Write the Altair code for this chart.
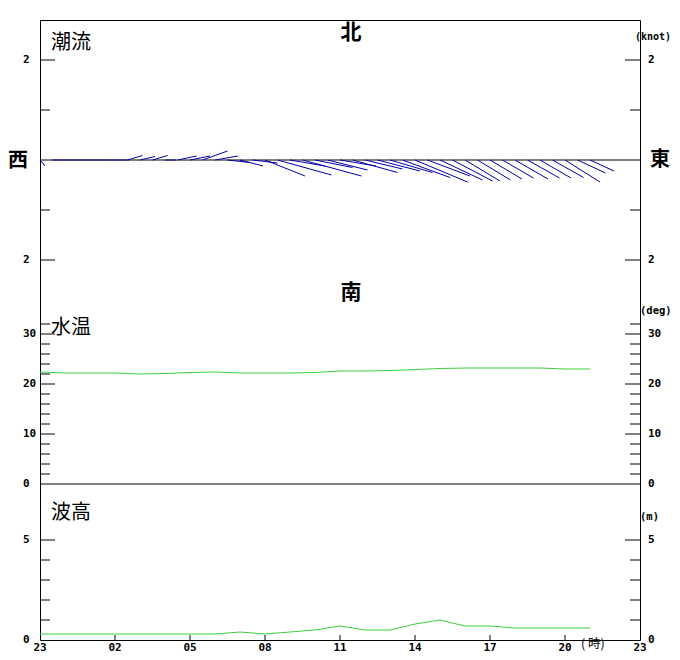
import altair as alt
import pandas as pd

# ---------------- data ----------------
# current sticks (hours after 23:00, east / north components in knots)
cur_t = [0, 0.5, 1, 1.5, 2, 2.5, 3, 3.5, 4, 4.5, 5, 5.5, 6, 6.5, 7, 7.5, 8, 8.5,
         9, 9.5, 10, 10.5, 11, 11.5, 12, 12.5, 13, 13.5, 14, 14.5, 15, 15.5,
         16, 16.5, 17, 17.5, 18, 18.5, 19, 19.5, 20, 20.5, 21, 21.5, 22]
cur_u = [0.10, 0.25, 0.25, 0.25, 0.25, 0.25, 0.28, 0.30, 0.30, 0.30, 0.22, 0.38,
         0.40, 0.50, 0.46, 0.45, 0.46, 0.50, 0.80, 1.08, 0.70, 1.18, 0.75, 0.80,
         0.72, 0.90, 0.75, 0.85, 0.85, 0.95, 1.05, 0.85, 0.85, 0.80, 0.70, 0.66,
         0.64, 0.62, 0.66, 0.64, 0.62, 0.62, 0.70, 0.56, 0.48]
cur_v = [-0.12, 0.00, 0.00, 0.00, 0.00, 0.00, 0.00, 0.09, 0.07, 0.09, 0.00, 0.08,
         0.08, 0.18, 0.08, -0.05, -0.12, -0.06, -0.32, -0.30, -0.12, -0.32, -0.15,
         -0.20, -0.12, -0.25, -0.18, -0.22, -0.25, -0.35, -0.44, -0.32, -0.40,
         -0.42, -0.42, -0.40, -0.38, -0.36, -0.38, -0.36, -0.36, -0.35, -0.44,
         -0.26, -0.22]

hour_t = [0, 1, 2, 3, 4, 5, 6, 7, 8, 9, 10, 11, 12, 13, 14, 15, 16, 17, 18, 19, 20, 21, 22]
temp = [22.4, 22.2, 22.2, 22.2, 22.0, 22.1, 22.3, 22.4, 22.2, 22.2, 22.2, 22.3,
        22.6, 22.6, 22.7, 22.9, 23.1, 23.2, 23.2, 23.2, 23.2, 23.0, 23.0]
wave = [0.3, 0.3, 0.3, 0.3, 0.3, 0.3, 0.3, 0.3, 0.4, 0.3, 0.4, 0.5,
        0.7, 0.5, 0.5, 0.8, 1.0, 0.7, 0.7, 0.6, 0.6, 0.6, 0.6]

xtick_hours = [0, 3, 6, 9, 12, 15, 18, 21, 24]
xtick_labels = ["23", "02", "05", "08", "11", "14", "17", "20", "23"]
xtick_inner = [3, 6, 9, 12, 15, 18, 21]

cur_major = [2, -2]
cur_minor = [1, -1]
cur_lab_vals = [2, -2]
cur_lab_text = ["2", "2"]

temp_major = [10, 20, 30]
temp_minor = [2, 4, 6, 8, 12, 14, 16, 18, 22, 24, 26, 28, 32]
temp_lab_vals = [30, 20, 10, 0]
temp_lab_text = ["30", "20", "10", "0"]

wave_major = [5]
wave_minor = [1, 2, 3, 4]
wave_lab_vals = [5, 0]
wave_lab_text = ["5", "0"]

# ---------------- styles ----------------
BLUE = "#0000a8"
GREEN = "#3ccf3c"
MONO = "DejaVu Sans Mono"
CJK = "Noto Sans CJK JP"
W, H = 600, 620

X = alt.Scale(domain=[0, 24], range=[0, W], nice=False, zero=False)
Ycur = alt.Scale(domain=[-2, 2], range=[240, 40], nice=False, zero=False)
Ytemp = alt.Scale(domain=[0, 30], range=[464, 314], nice=False, zero=False)
Ywave = alt.Scale(domain=[0, 5], range=[620, 520], nice=False, zero=False)


def ticks(vals, scale, length):
    df = pd.DataFrame({"v": vals})
    left = alt.Chart(df).mark_rule(color="black", strokeWidth=1).encode(
        y=alt.Y("v:Q", scale=scale, axis=None),
        x=alt.value(0), x2=alt.value(length))
    right = alt.Chart(df).mark_rule(color="black", strokeWidth=1).encode(
        y=alt.Y("v:Q", scale=scale, axis=None),
        x=alt.value(W), x2=alt.value(W - length))
    return [left, right]


def labels(vals, texts, scale):
    df = pd.DataFrame({"v": vals, "label": texts})
    out = []
    for xpos in (-17, 608):
        out.append(alt.Chart(df).mark_text(
            align="left", baseline="middle", font=MONO, fontSize=11,
            fontWeight="bold", color="black").encode(
            y=alt.Y("v:Q", scale=scale, axis=None),
            x=alt.value(xpos), text="label:N"))
    return out


def zero_line(scale):
    return alt.Chart(pd.DataFrame({"v": [0]})).mark_rule(
        color="black", strokeWidth=1).encode(
        y=alt.Y("v:Q", scale=scale, axis=None), x=alt.value(0), x2=alt.value(W))


def note(text, x, y, size, font=CJK, weight="normal", align="left"):
    return alt.Chart(pd.DataFrame({"label": [text]})).mark_text(
        align=align, baseline="middle", font=font, fontSize=size,
        fontWeight=weight, color="black").encode(
        x=alt.value(x), y=alt.value(y), text="label:N")


# ---------------- current panel ----------------
cur_df = pd.DataFrame({"t": cur_t, "u": cur_u, "v": cur_v})
sticks = alt.Chart(cur_df).transform_calculate(
    t2="datum.t + 2 * datum.u", y0="0").mark_rule(
    color=BLUE, strokeWidth=1).encode(
    x=alt.X("t:Q", scale=X, axis=None), x2="t2:Q",
    y=alt.Y("y0:Q", scale=Ycur, axis=None), y2="v:Q")

cur_layer = alt.layer(
    zero_line(Ycur), sticks,
    *ticks(cur_major, Ycur, 15), *ticks(cur_minor, Ycur, 10),
    *labels(cur_lab_vals, cur_lab_text, Ycur))

# ---------------- water temperature ----------------
temp_df = pd.DataFrame({"t": hour_t, "temp": temp})
temp_line = alt.Chart(temp_df).mark_line(color=GREEN, strokeWidth=1).encode(
    x=alt.X("t:Q", scale=X, axis=None),
    y=alt.Y("temp:Q", scale=Ytemp, axis=None))
temp_layer = alt.layer(
    zero_line(Ytemp), temp_line,
    *ticks(temp_major, Ytemp, 15), *ticks(temp_minor, Ytemp, 10),
    *labels(temp_lab_vals, temp_lab_text, Ytemp))

# ---------------- wave height ----------------
wave_df = pd.DataFrame({"t": hour_t, "wave": wave})
wave_line = alt.Chart(wave_df).mark_line(color=GREEN, strokeWidth=1).encode(
    x=alt.X("t:Q", scale=X, axis=None),
    y=alt.Y("wave:Q", scale=Ywave, axis=None))
wave_layer = alt.layer(
    wave_line,
    *ticks(wave_major, Ywave, 15), *ticks(wave_minor, Ywave, 10),
    *labels(wave_lab_vals, wave_lab_text, Ywave))

# ---------------- x axis ----------------
xt_df = pd.DataFrame({"t": xtick_inner})
x_ticks = alt.Chart(xt_df).mark_rule(color="black", strokeWidth=1).encode(
    x=alt.X("t:Q", scale=X, axis=None), y=alt.value(H - 5), y2=alt.value(H))
xl_df = pd.DataFrame({"t": xtick_hours, "label": xtick_labels})
x_labels = alt.Chart(xl_df).mark_text(
    align="center", baseline="middle", font=MONO, fontSize=11,
    fontWeight="bold", color="black").encode(
    x=alt.X("t:Q", scale=X, axis=None), y=alt.value(627.5), text="label:N")

notes = [
    note("潮流", 11, 22.5, 20),
    note("水温", 11, 308, 20),
    note("波高", 11, 492.5, 20),
    note("北", 311, 12.5, 21, weight="bold", align="center"),
    note("南", 311, 272.5, 21, weight="bold", align="center"),
    note("西", -22, 140.5, 20, weight="bold", align="center"),
    note("東", 620, 140, 20, weight="bold", align="center"),
    note("(knot)", 595, 17, 10, font=MONO, weight="bold"),
    note("(deg)", 600, 291, 10.5, font=MONO, weight="bold"),
    note("(m)", 600, 497, 10.5, font=MONO, weight="bold"),
    note("( 時)", 541, 623.5, 12.5),
]

chart = alt.layer(
    cur_layer, temp_layer, wave_layer, x_ticks, x_labels, *notes
).resolve_scale(y="independent").properties(
    width=W, height=H,
    autosize=alt.AutoSizeParams(type="none"),
    padding={"left": 32, "top": 12, "right": 32, "bottom": 12},
    background="white",
).configure_view(stroke="black", strokeWidth=1)

chart.save("out.html", embed_options={"renderer": "svg", "actions": False})
